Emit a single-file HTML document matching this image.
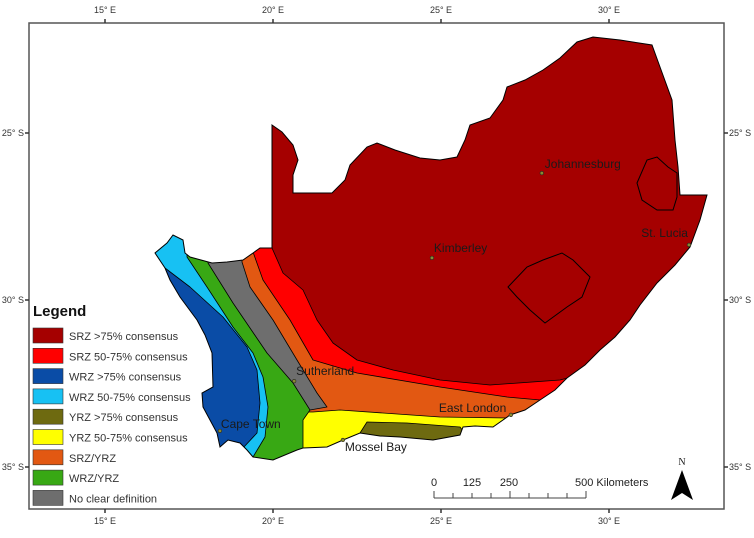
<!DOCTYPE html>
<html><head><meta charset="utf-8"><style>
html,body{margin:0;padding:0;background:#fff;}
svg text{font-family:"Liberation Sans",sans-serif;}
</style></head><body>
<svg id="map" width="754" height="533" viewBox="0 0 754 533" xmlns="http://www.w3.org/2000/svg">
<defs><clipPath id="sa"><path id="saPath" d="M272,125 L282,132 L293,145 L298,160 L293,175 L293,193 L310,193 L332,193 L345,180 L350,165 L367,147 L377,143 L395,150 L420,158 L440,160 L457,157 L465,140 L470,125 L490,118 L503,100 L507,87 L525,80 L543,70 L560,58 L577,42 L593,37 L620,40 L652,45 L660,67 L672,100 L675,140 L678,167 L680,195 L707,195 L700,220 L690,247 L675,265 L657,283 L640,305 L630,320 L615,337 L600,350 L585,365 L567,378 L555,390 L540,400 L525,410 L510,415 L493,427 L475,426 L463,427 L460,435 L433,440 L400,437 L380,436 L360,433 L343,440 L327,447 L303,448 L297,450 L273,460 L253,457 L247,450 L240,443 L228,440 L220,447 L217,433 L210,420 L203,407 L202,393 L213,387 L212,353 L205,335 L197,320 L180,297 L170,280 L165,268 L155,253 L167,243 L173,235 L183,240 L185,253 L190,257 L212,263 L227,262 L243,260 L253,253 L260,248 L272,248 Z"/></clipPath></defs>

<rect x="29" y="23" width="695" height="486" fill="#fff" stroke="#555" stroke-width="1.5"/>
<g id="axes"></g>

<g clip-path="url(#sa)" stroke="#000" stroke-width="0.8" stroke-linejoin="round">
  <use href="#saPath" fill="#a50000" stroke="none"/>
  <path fill="#ff0000" d="M272,248 L283,273 L303,290 L317,320 L333,343 L357,360 L393,370 L440,380 L490,385 L560,380 L575,376 L620,400 L620,490 L100,490 L100,230 L272,230 Z"/>
  <path fill="#e25812" d="M253,252 L263,280 L290,320 L313,360 L357,373 L440,387 L507,397 L540,400 L600,420 L600,490 L100,490 L100,220 L253,220 Z"/>
  <path fill="#ffff00" d="M313,412 L340,410 L440,417 L507,418 L530,440 L520,490 L290,490 L290,412 Z"/>
  <path fill="#6e6a10" d="M360,433 L367,422 L407,423 L460,427 L470,440 L433,444 L400,441 Z"/>
  <path fill="#6e6e6e" d="M242,262 L250,287 L273,320 L297,360 L317,393 L327,407 L310,410 L150,470 L100,470 L100,220 L242,220 Z"/>
  <path fill="#38a814" d="M208,263 L233,303 L267,353 L293,383 L310,410 L303,420 L303,448 L300,490 L100,490 L100,220 L208,220 Z"/>
  <path fill="#17c1f3" d="M187,257 L207,287 L233,327 L253,353 L263,377 L268,407 L265,437 L253,457 L253,490 L100,490 L100,220 L187,220 Z"/>
  <path fill="#0a4ca6" d="M165,268 L190,287 L223,317 L247,347 L257,370 L260,403 L257,433 L243,448 L243,490 L100,490 L100,268 Z"/>
</g>
<use href="#saPath" fill="none" stroke="#000" stroke-width="1"/>
<path fill="#a50000" stroke="#000" stroke-width="1" d="M508,287 L527,267 L543,260 L562,253 L573,260 L590,277 L582,297 L567,307 L545,323 L530,310 L517,297 Z"/>
<path fill="#a50000" stroke="#000" stroke-width="1" d="M637,183 L647,160 L657,157 L668,167 L677,173 L677,197 L673,210 L657,210 L642,200 Z"/>
<g id="cities"></g>

<g>
  <text x="33" y="316" font-size="15" font-weight="bold" fill="#111">Legend</text>
  <g id="legendItems"></g>
</g>

<g stroke="#444" stroke-width="1" fill="none">
  <line x1="434" y1="498" x2="586" y2="498"/>
  <g id="scaleTicks"></g>
</g>
<g font-size="11" fill="#222">
  <text x="434" y="486" text-anchor="middle">0</text>
  <text x="472" y="486" text-anchor="middle">125</text>
  <text x="509" y="486" text-anchor="middle">250</text>
  <text x="575" y="486">500 Kilometers</text>
</g>
<g>
  <text x="682" y="465" font-size="10" text-anchor="middle" fill="#222" style="font-family:'Liberation Serif',serif">N</text>
  <path d="M682,470 L693,500 L682,493 L671,500 Z" fill="#000"/>
</g>
</svg>
<script>
const lonTicks=[15,20,25,30];
const latTicks=[25,30,35];
const cityNames=["Johannesburg","Kimberley","St. Lucia","Sutherland","Cape Town","East London","Mossel Bay"];
const cityLon=[28.0,24.73,32.38,20.63,18.42,27.08,22.08];
const cityLat=[26.2,28.74,28.35,32.43,33.92,33.44,34.19];
const legendLabels=["SRZ >75% consensus","SRZ 50-75% consensus","WRZ >75% consensus","WRZ 50-75% consensus","YRZ >75% consensus","YRZ 50-75% consensus","SRZ/YRZ","WRZ/YRZ","No clear definition"];
const legendColors=["#a50000","#ff0000","#0a4ca6","#17c1f3","#6e6a10","#ffff00","#e25812","#38a814","#6e6e6e"];

const NS="http://www.w3.org/2000/svg";
function xOf(lon){return 273+(lon-20)*33.6;}
function yOf(lat){return 133+(lat-25)*33.4;}
function mk(tag,attrs,parent){const e=document.createElementNS(NS,tag);for(const k in attrs)e.setAttribute(k,attrs[k]);parent.appendChild(e);return e;}

const axes=document.getElementById('axes');
lonTicks.forEach(l=>{
  const x=xOf(l);
  [[23,19,13],[509,513,524]].forEach(([a,b,ty])=>{
    const t=mk('line',{x1:x,y1:a,x2:x,y2:b,stroke:'#333','stroke-width':1.5},axes);
    
    
    const tx=mk('text',{x:x,y:ty,'font-size':9,'text-anchor':'middle',fill:'#333'},axes);
    tx.textContent=l+'° E';
    
    
  });
});
latTicks.forEach(l=>{
  const y=yOf(l);
  [[29,25,24,'end'],[724,728,729,'start']].forEach(([a,b,tx0,anc])=>{
    const t=mk('line',{x1:a,y1:y,x2:b,y2:y,stroke:'#333','stroke-width':1.5},axes);
    
    
    const tx=mk('text',{x:tx0,y:y+3,'font-size':9,'text-anchor':anc,fill:'#333'},axes);
    tx.textContent=l+'° S';
    
    
  });
});

const labelDx=[3,2,-1,2,1,-72,2];
const labelDy=[-5,-6,-8,-6,-3,-3,11];
const anchors=['start','start','end','start','start','start','start'];
const cities=document.getElementById('cities');
cityNames.forEach((n,i)=>{
  const x=xOf(cityLon[i]),y=yOf(cityLat[i]);
  const d=mk('circle',{cx:x,cy:y,r:1.8,fill:'#8a8a30',stroke:'#222','stroke-width':0.6},cities);
  
  
  const t=mk('text',{x:x+labelDx[i],y:y+labelDy[i],'font-size':12,fill:'#1a1a1a','text-anchor':anchors[i]},cities);
  t.textContent=n;
  
  
});

const li=document.getElementById('legendItems');
legendLabels.forEach((lab,i)=>{
  const y=328+i*20.3;
  const r=mk('rect',{x:33,y:y,width:30,height:15,fill:legendColors[i],stroke:'#333','stroke-width':0.6},li);
  
  
  const t=mk('text',{x:69,y:y+12,'font-size':11,fill:'#333'},li);
  t.textContent=lab;
  
  
});

const st=document.getElementById('scaleTicks');
for(let i=0;i<=8;i++){
  const x=434+i*19;
  const major=(i%4===0);
  const l=mk('line',{x1:x,y1:major?491:493,x2:x,y2:498},st);
  
  
}
</script>
</body></html>
